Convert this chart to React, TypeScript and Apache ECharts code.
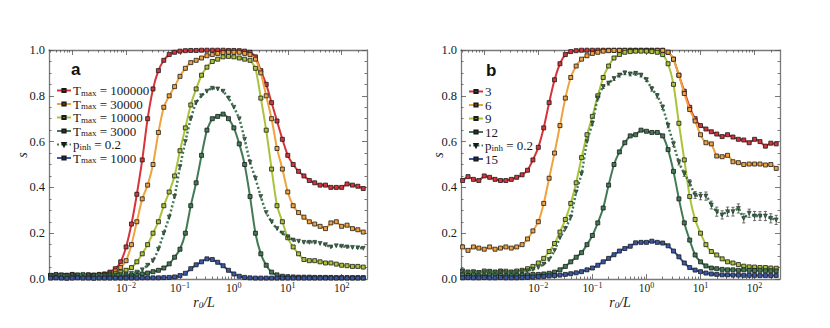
import React, { useEffect, useRef } from "react";
import * as echarts from "echarts";

// log10(r0/L) sampling grid
const logR = [
  -3.4, -3.3, -3.2, -3.1, -3.0, -2.9, -2.8, -2.7, -2.6, -2.5,
  -2.4, -2.3, -2.2, -2.1, -2.0, -1.9, -1.8, -1.7, -1.6, -1.5,
  -1.4, -1.3, -1.2, -1.1, -1.0, -0.9, -0.8, -0.7, -0.6, -0.5,
  -0.4, -0.3, -0.2, -0.1, 0.0, 0.1, 0.2, 0.3, 0.4, 0.5,
  0.6, 0.7, 0.8, 0.9, 1.0, 1.1, 1.2, 1.3, 1.4, 1.5,
  1.6, 1.7, 1.8, 1.9, 2.0, 2.1, 2.2, 2.3, 2.4,
];

// Panel a
const redA = [
  0.015, 0.018, 0.014, 0.016, 0.020, 0.015, 0.013, 0.017, 0.016, 0.020,
  0.022, 0.030, 0.045, 0.075, 0.140, 0.240, 0.370, 0.520, 0.700, 0.830,
  0.910, 0.955, 0.980, 0.990, 0.995, 0.997, 0.998, 0.998, 0.999, 0.999,
  0.999, 0.999, 0.999, 0.998, 0.998, 0.997, 0.995, 0.990, 0.970, 0.910,
  0.850, 0.770, 0.690, 0.610, 0.540, 0.500, 0.470, 0.450, 0.430, 0.420,
  0.410, 0.410, 0.400, 0.400, 0.400, 0.415, 0.410, 0.405, 0.395,
];
const orangeA = [
  0.016, 0.014, 0.018, 0.015, 0.017, 0.014, 0.016, 0.018, 0.015, 0.017,
  0.020, 0.025, 0.035, 0.050, 0.080, 0.150, 0.250, 0.350, 0.410, 0.500,
  0.640, 0.750, 0.800, 0.840, 0.885, 0.920, 0.945, 0.955, 0.965, 0.975,
  0.980, 0.985, 0.988, 0.990, 0.990, 0.990, 0.985, 0.980, 0.960, 0.900,
  0.800, 0.700, 0.570, 0.480, 0.380, 0.320, 0.290, 0.270, 0.250, 0.240,
  0.230, 0.220, 0.245, 0.250, 0.230, 0.235, 0.220, 0.215, 0.205,
];
const limeA = [
  0.014, 0.017, 0.015, 0.016, 0.014, 0.018, 0.015, 0.016, 0.017, 0.015,
  0.017, 0.020, 0.025, 0.030, 0.038, 0.050, 0.075, 0.110, 0.150, 0.200,
  0.250, 0.320, 0.380, 0.450, 0.560, 0.660, 0.760, 0.830, 0.890, 0.925,
  0.950, 0.960, 0.970, 0.972, 0.970, 0.965, 0.960, 0.955, 0.920, 0.790,
  0.650, 0.480, 0.320, 0.250, 0.180, 0.140, 0.110, 0.085, 0.080, 0.080,
  0.075, 0.070, 0.070, 0.065, 0.060, 0.058, 0.055, 0.055, 0.052,
];
const darkA = [
  0.013, 0.016, 0.012, 0.015, 0.014, 0.012, 0.016, 0.013, 0.015, 0.012,
  0.014, 0.013, 0.015, 0.014, 0.016, 0.017, 0.019, 0.022, 0.026, 0.032,
  0.038, 0.048, 0.066, 0.095, 0.130, 0.200, 0.320, 0.420, 0.540, 0.650,
  0.700, 0.710, 0.720, 0.700, 0.660, 0.590, 0.500, 0.360, 0.200, 0.110,
  0.060, 0.030, 0.018, 0.012, 0.010, 0.009, 0.008, 0.008, 0.008, 0.007,
  0.007, 0.007, 0.007, 0.006, 0.006, 0.006, 0.006, 0.006, 0.006,
];
const pinhA = [
  0.015, 0.020, 0.016, 0.014, 0.018, 0.015, 0.020, 0.016, 0.014, 0.017,
  0.016, 0.016, 0.018, 0.020, 0.022, 0.025, 0.030, 0.040, 0.060, 0.080,
  0.130, 0.200, 0.270, 0.360, 0.490, 0.600, 0.700, 0.770, 0.800, 0.820,
  0.833, 0.830, 0.820, 0.790, 0.750, 0.700, 0.610, 0.510, 0.440, 0.360,
  0.290, 0.250, 0.220, 0.200, 0.185, 0.170, 0.165, 0.160, 0.160, 0.160,
  0.155, 0.150, 0.140, 0.145, 0.143, 0.140, 0.138, 0.136, 0.134,
];
const blueA = [
  0.004, 0.005, 0.004, 0.003, 0.004, 0.005, 0.004, 0.004, 0.003, 0.004,
  0.004, 0.004, 0.004, 0.004, 0.004, 0.004, 0.004, 0.005, 0.005, 0.005,
  0.005, 0.006, 0.007, 0.009, 0.015, 0.025, 0.045, 0.062, 0.075, 0.088,
  0.085, 0.073, 0.058, 0.038, 0.022, 0.012, 0.007, 0.005, 0.004, 0.004,
  0.004, 0.004, 0.004, 0.004, 0.004, 0.004, 0.004, 0.004, 0.004, 0.004,
  0.004, 0.004, 0.004, 0.004, 0.004, 0.004, 0.004, 0.004, 0.004,
];

// Panel b
const redB = [
  0.430, 0.447, 0.435, 0.430, 0.450, 0.444, 0.435, 0.430, 0.430, 0.435,
  0.444, 0.455, 0.475, 0.520, 0.575, 0.660, 0.770, 0.870, 0.940, 0.980,
  0.993, 0.997, 0.999, 0.999, 0.999, 0.999, 0.999, 0.999, 0.999, 0.999,
  0.999, 0.999, 0.999, 0.999, 0.999, 0.999, 0.999, 0.999, 0.990, 0.960,
  0.890, 0.820, 0.750, 0.700, 0.670, 0.655, 0.643, 0.633, 0.622, 0.630,
  0.620, 0.610, 0.607, 0.595, 0.610, 0.600, 0.580, 0.593, 0.590,
];
const orangeB = [
  0.140, 0.125, 0.140, 0.135, 0.130, 0.140, 0.130, 0.135, 0.140, 0.135,
  0.140, 0.150, 0.175, 0.210, 0.250, 0.330, 0.440, 0.550, 0.670, 0.790,
  0.880, 0.930, 0.960, 0.975, 0.985, 0.990, 0.995, 0.997, 0.998, 0.998,
  0.998, 0.998, 0.998, 0.998, 0.998, 0.998, 0.998, 0.998, 0.990, 0.960,
  0.890, 0.810, 0.740, 0.690, 0.630, 0.595, 0.590, 0.537, 0.534, 0.540,
  0.512, 0.508, 0.500, 0.502, 0.502, 0.502, 0.498, 0.500, 0.483,
];
const limeB = [
  0.035, 0.030, 0.030, 0.028, 0.035, 0.032, 0.030, 0.035, 0.034, 0.030,
  0.035, 0.038, 0.045, 0.055, 0.070, 0.090, 0.120, 0.155, 0.205, 0.260,
  0.330, 0.420, 0.530, 0.630, 0.710, 0.800, 0.880, 0.930, 0.965, 0.980,
  0.990, 0.993, 0.995, 0.995, 0.995, 0.993, 0.990, 0.980, 0.940, 0.850,
  0.680, 0.520, 0.360, 0.260, 0.200, 0.150, 0.120, 0.105, 0.088, 0.075,
  0.070, 0.063, 0.056, 0.053, 0.052, 0.050, 0.050, 0.048, 0.047,
];
const darkB = [
  0.018, 0.015, 0.020, 0.016, 0.014, 0.018, 0.022, 0.016, 0.015, 0.018,
  0.017, 0.018, 0.018, 0.020, 0.020, 0.022, 0.025, 0.030, 0.040, 0.055,
  0.075, 0.095, 0.115, 0.150, 0.190, 0.245, 0.310, 0.410, 0.500, 0.555,
  0.595, 0.625, 0.630, 0.650, 0.645, 0.640, 0.640, 0.625, 0.565, 0.470,
  0.350, 0.245, 0.170, 0.105, 0.075, 0.057, 0.048, 0.045, 0.042, 0.040,
  0.040, 0.038, 0.040, 0.038, 0.037, 0.038, 0.036, 0.036, 0.035,
];
const pinhB = [
  0.035, 0.030, 0.032, 0.028, 0.030, 0.034, 0.030, 0.032, 0.028, 0.030,
  0.030, 0.033, 0.036, 0.042, 0.050, 0.065, 0.085, 0.125, 0.180, 0.220,
  0.270, 0.380, 0.460, 0.600, 0.680, 0.790, 0.840, 0.855, 0.875, 0.890,
  0.900, 0.895, 0.898, 0.890, 0.870, 0.830, 0.800, 0.750, 0.670, 0.590,
  0.510, 0.460, 0.420, 0.367, 0.362, 0.362, 0.323, 0.294, 0.280, 0.294,
  0.294, 0.308, 0.265, 0.287, 0.275, 0.275, 0.275, 0.265, 0.258,
];
const pinhBErr = [
  0, 0, 0, 0, 0, 0, 0, 0, 0, 0,
  0, 0, 0, 0, 0, 0, 0, 0, 0, 0,
  0, 0, 0, 0, 0.008, 0.008, 0.008, 0.008, 0.008, 0.008,
  0.008, 0.008, 0.008, 0.008, 0.008, 0.010, 0.010, 0.010, 0.010, 0.012,
  0.012, 0.012, 0.014, 0.015, 0.016, 0.018, 0.017, 0.020, 0.018, 0.020,
  0.019, 0.020, 0.020, 0.018, 0.020, 0.019, 0.020, 0.020, 0.020,
];
const blueB = [
  0.005, 0.006, 0.005, 0.005, 0.006, 0.005, 0.005, 0.006, 0.005, 0.005,
  0.005, 0.006, 0.007, 0.008, 0.010, 0.011, 0.013, 0.015, 0.017, 0.020,
  0.023, 0.027, 0.032, 0.040, 0.048, 0.060, 0.075, 0.090, 0.106, 0.122,
  0.133, 0.143, 0.158, 0.160, 0.160, 0.165, 0.160, 0.157, 0.145, 0.122,
  0.097, 0.070, 0.050, 0.039, 0.032, 0.026, 0.022, 0.020, 0.018, 0.018,
  0.017, 0.017, 0.016, 0.016, 0.016, 0.015, 0.015, 0.015, 0.015,
];

const namesA = ["Tmax = 100000", "Tmax = 30000", "Tmax = 10000", "Tmax = 3000", "pinh = 0.2", "Tmax = 1000"];
const namesB = ["3", "6", "9", "12", "pinh = 0.2", "15"];
const xTickLabels = [-2, -1, 0, 1, 2];
const xMajorTicks = [-3, -2, -1, 0, 1, 2];
const yTickLabels = [0, 0.2, 0.4, 0.6, 0.8, 1.0];

const XMIN = -3.43;
const XMAX = 2.47;
const SERIF = "'Liberation Serif', 'DejaVu Serif', serif";
const AXIS = "#7a7a7a";
const TXT = "#1a1a1a";

const COLORS = {
  red: "#d6343a",
  orange: "#f0a23e",
  lime: "#a9c33a",
  dark: "#427a55",
  dot: "#3e7a52",
  blue: "#3a58a6",
};

function legendLabel(n: string): string {
  if (n.startsWith("Tmax")) return `{t|T}{s|max}{t|${n.slice(4)}}`;
  if (n.startsWith("pinh")) return `{t|p}{s|inh}{t|${n.slice(4)}}`;
  return `{t|${n}}`;
}

export default function App() {
  const ref = useRef<HTMLDivElement>(null);
  useEffect(() => {
    const chart = echarts.init(ref.current!, null, { renderer: "svg" });

    const minorX: number[] = [];
    for (let n = -4; n <= 2; n++) {
      for (let k = 2; k <= 9; k++) {
        const v = n + Math.log10(k);
        if (v > XMIN && v < XMAX) minorX.push(v);
      }
    }

    const axLine = { show: true, onZero: false, lineStyle: { color: AXIS, width: 1.3 } };
    const tickStyle = { color: "#555", width: 0.8 };

    const xAxesFor = (g: number) => {
      const base = { type: "value", gridIndex: g, min: XMIN, max: XMAX, splitLine: { show: false } };
      return [
        {
          ...base,
          position: "bottom",
          axisLine: axLine,
          axisTick: { show: true, inside: true, length: 5, customValues: xMajorTicks, lineStyle: tickStyle },
          axisLabel: {
            show: true,
            customValues: xTickLabels,
            margin: 2,
            formatter: (v: number) => `{b|10}{p|${v < 0 ? "\u2212" + Math.abs(v) : v}}`,
            rich: {
              b: { fontFamily: SERIF, fontSize: 11.5, color: TXT, lineHeight: 14 },
              p: { fontFamily: SERIF, fontSize: 8, color: TXT, lineHeight: 8, padding: [0, 0, 6, 0] },
            },
          },
        },
        {
          ...base,
          position: "bottom",
          axisLine: { show: false, onZero: false },
          axisTick: { show: true, inside: true, length: 2.5, customValues: minorX, lineStyle: tickStyle },
          axisLabel: { show: false },
        },
        {
          ...base,
          position: "top",
          axisLine: axLine,
          axisTick: { show: true, inside: true, length: 5, customValues: xMajorTicks, lineStyle: tickStyle },
          axisLabel: { show: false },
        },
        {
          ...base,
          position: "top",
          axisLine: { show: false, onZero: false },
          axisTick: { show: true, inside: true, length: 2.5, customValues: minorX, lineStyle: tickStyle },
          axisLabel: { show: false },
        },
      ];
    };

    const yAxesFor = (g: number) => {
      const base = { type: "value", gridIndex: g, min: 0, max: 1, interval: 0.2, splitLine: { show: false } };
      return [
        {
          ...base,
          position: "left",
          axisLine: axLine,
          axisTick: { show: true, inside: true, length: 5, lineStyle: tickStyle },
          minorTick: { show: true, splitNumber: 4, length: 2.5, lineStyle: tickStyle },
          axisLabel: {
            show: true,
            customValues: yTickLabels,
            margin: 4,
            formatter: (v: number) => v.toFixed(1),
            fontFamily: SERIF,
            fontSize: 12.5,
            color: TXT,
          },
        },
        {
          ...base,
          position: "right",
          axisLine: axLine,
          axisTick: { show: true, inside: true, length: 5, lineStyle: tickStyle },
          minorTick: { show: true, splitNumber: 4, length: 2.5, lineStyle: tickStyle },
          axisLabel: { show: false },
        },
      ];
    };

    const solid = (name: string, values: number[], color: string, xi: number, yi: number, z: number) => ({
      type: "line",
      name,
      xAxisIndex: xi,
      yAxisIndex: yi,
      data: logR.map((x, i) => [x, values[i]]),
      smooth: 0.2,
      symbol: "rect",
      symbolSize: 4,
      showSymbol: true,
      lineStyle: { color, width: 2 },
      itemStyle: { color, borderColor: "#1a1a1a", borderWidth: 0.8 },
      emphasis: { disabled: true },
      z,
    });

    const dotted = (name: string, values: number[], xi: number, yi: number, z: number) => ({
      type: "line",
      name,
      xAxisIndex: xi,
      yAxisIndex: yi,
      data: logR.map((x, i) => [x, values[i]]),
      smooth: 0.2,
      symbol: "triangle",
      symbolRotate: 180,
      symbolSize: 4,
      showSymbol: true,
      lineStyle: { color: COLORS.dot, width: 2.5, type: [2, 2.2] },
      itemStyle: { color: "#3a6a4a", borderColor: "#1a1a1a", borderWidth: 0.5 },
      emphasis: { disabled: true },
      z,
    });

    const errData = logR
      .map((x, i) => [x, pinhB[i], pinhBErr[i]])
      .filter((d) => d[2] > 0);

    const xNameRich = {
      i: { fontFamily: SERIF, fontStyle: "italic", fontSize: 14, fill: TXT, lineHeight: 16 },
      s: { fontFamily: SERIF, fontStyle: "italic", fontSize: 9, fill: TXT, lineHeight: 9, padding: [6, 0, 0, 0] },
    };
    const nameText = (x: number, y: number, text: string, rot: number) => ({
      type: "text",
      x,
      y,
      rotation: rot,
      style: {
        text,
        rich: xNameRich,
        font: `italic 14px ${SERIF}`,
        fill: TXT,
        align: "center",
        verticalAlign: "middle",
      },
    });

    const option: any = {
      animation: false,
      backgroundColor: "#ffffff",
      grid: [
        { left: 49, top: 50, width: 318, height: 229 },
        { left: 461, top: 50, width: 319, height: 229 },
      ],
      xAxis: [...xAxesFor(0), ...xAxesFor(1)],
      yAxis: [...yAxesFor(0), ...yAxesFor(1)],
      legend: [0, 1].map((g) => ({
        left: g === 0 ? 56 : 468,
        top: g === 0 ? 84 : 85,
        orient: "vertical",
        itemWidth: 14,
        itemHeight: 4,
        itemGap: 0.5,
        padding: 0,
        selectedMode: false,
        data: g === 0 ? namesA : namesB,
        formatter: legendLabel,
        textStyle: {
          padding: [0, 0, 0, -3],
          rich: {
            t: { fontFamily: SERIF, fontSize: 13, color: TXT, lineHeight: 12.5 },
            s: { fontFamily: SERIF, fontSize: 9, color: TXT, lineHeight: 8, padding: [4, 0, 0, 0] },
          },
        },
      })),
      graphic: [
        { type: "text", left: 71, top: 61, style: { text: "a", font: "bold 17px 'Liberation Sans', Arial, sans-serif", fill: "#111" } },
        { type: "text", left: 486, top: 62, style: { text: "b", font: "bold 17px 'Liberation Sans', Arial, sans-serif", fill: "#111" } },
        nameText(204, 302, "{i|r}{s|0}{i|/L}", 0),
        nameText(620, 302, "{i|r}{s|0}{i|/L}", 0),
        nameText(22, 155, "{i|s}", Math.PI / 2),
        nameText(438, 155, "{i|s}", Math.PI / 2),
      ],
      series: [
        solid(namesA[0], redA, COLORS.red, 0, 0, 3),
        solid(namesA[1], orangeA, COLORS.orange, 0, 0, 4),
        solid(namesA[2], limeA, COLORS.lime, 0, 0, 5),
        solid(namesA[3], darkA, COLORS.dark, 0, 0, 6),
        dotted(namesA[4], pinhA, 0, 0, 7),
        solid(namesA[5], blueA, COLORS.blue, 0, 0, 8),
        solid(namesB[0], redB, COLORS.red, 4, 2, 3),
        solid(namesB[1], orangeB, COLORS.orange, 4, 2, 4),
        solid(namesB[2], limeB, COLORS.lime, 4, 2, 5),
        solid(namesB[3], darkB, COLORS.dark, 4, 2, 6),
        dotted(namesB[4], pinhB, 4, 2, 7),
        solid(namesB[5], blueB, COLORS.blue, 4, 2, 8),
        {
          type: "custom",
          xAxisIndex: 4,
          yAxisIndex: 2,
          data: errData,
          z: 7,
          renderItem: (params: any, api: any) => {
            const x = api.value(0);
            const y = api.value(1);
            const e = api.value(2);
            const p1 = api.coord([x, y + e]);
            const p2 = api.coord([x, y - e]);
            const w = 1.6;
            const st = { stroke: "#4a4a4a", lineWidth: 0.8 };
            return {
              type: "group",
              children: [
                { type: "line", shape: { x1: p1[0], y1: p1[1], x2: p2[0], y2: p2[1] }, style: st },
                { type: "line", shape: { x1: p1[0] - w, y1: p1[1], x2: p1[0] + w, y2: p1[1] }, style: st },
                { type: "line", shape: { x1: p2[0] - w, y1: p2[1], x2: p2[0] + w, y2: p2[1] }, style: st },
              ],
            };
          },
        },
      ],
    };

    chart.setOption(option);
    return () => chart.dispose();
  }, []);

  return (
    <div
      ref={ref}
      style={{ position: "fixed", left: 0, top: 0, width: 830, height: 328, background: "#fff" }}
    />
  );
}
